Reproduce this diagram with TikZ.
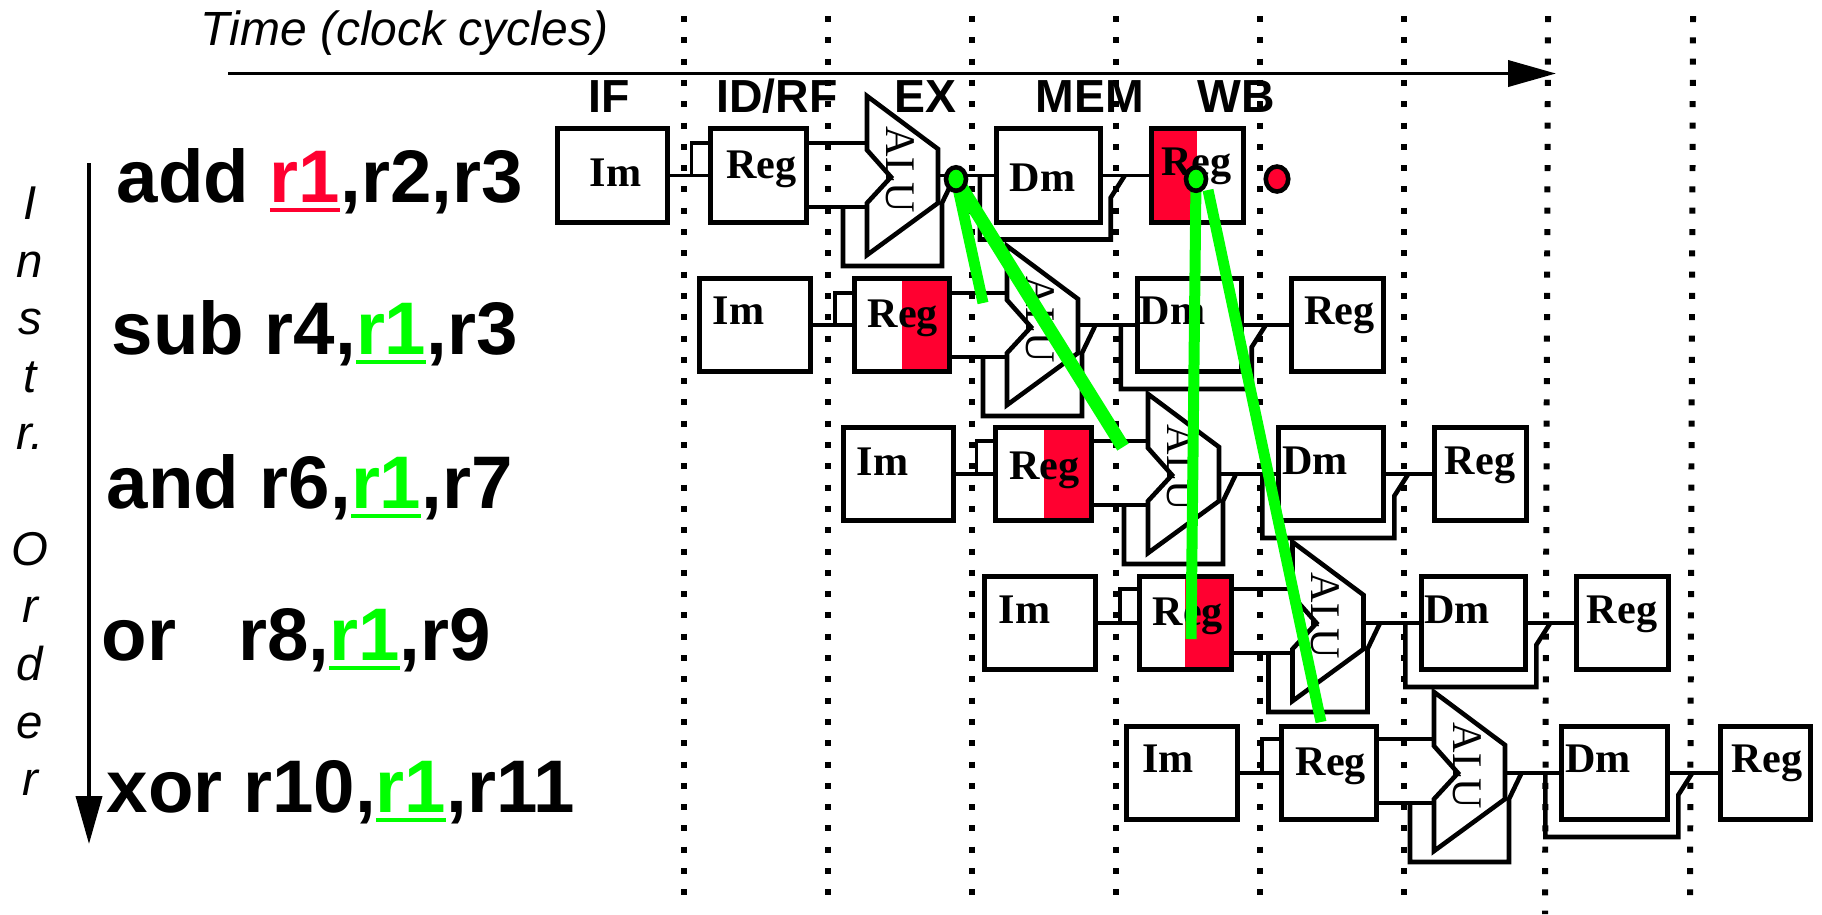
\documentclass[tikz,border=0pt]{standalone}
\usepackage{xcolor}
\usepackage{fontspec}
\setmainfont{Liberation Serif}
\setsansfont{Liberation Sans}
\usepackage{tikz}
\usetikzlibrary{shapes.geometric, arrows.meta, positioning, calc}
\definecolor{myred}{RGB}{255,0,48}
\definecolor{mygreen}{RGB}{0,255,0}
\tikzset{
  pipebox/.style={rectangle, draw=black, fill=white, line width=1.4pt,
    minimum height=0.935cm, inner sep=0pt},
  imbox/.style={pipebox, minimum width=1.11cm},
  regbox/.style={pipebox, minimum width=0.955cm},
  dmbox/.style={pipebox, minimum width=1.04cm},
  wbbox/.style={pipebox, minimum width=0.92cm},
  redleft/.style={path picture={\fill[myred] (path picture bounding box.south west)
    rectangle (path picture bounding box.north);}},
  redright/.style={path picture={\fill[myred] (path picture bounding box.south east)
    rectangle (path picture bounding box.north);}},
  boxtext/.style={anchor=base west, inner sep=0pt, font=\bfseries\fontsize{12}{14}\selectfont},
  alutext/.style={rotate=-90, inner sep=0pt, font=\fontsize{12}{14}\selectfont},
  alubody/.style={draw=black, fill=white, line width=1.3pt},
  bypass/.style={draw=black, line width=1.3pt},
  wire/.style={draw=black, line width=0.95pt},
  instr/.style={anchor=base west, inner sep=0pt, font=\sffamily\bfseries\fontsize{21.2}{24}\selectfont},
  stagelabel/.style={anchor=base, inner sep=0pt, font=\sffamily\bfseries\fontsize{13.2}{15}\selectfont},
  cycleline/.style={draw=black, line width=1.7pt, dash pattern=on 0.06cm off 0.153cm},
  bigarrow/.style={-{Triangle[length=0.48cm,width=0.26cm]}, line width=1.1pt},
  hazard/.style={draw=mygreen, line width=0.11cm},
  hazardwide/.style={draw=mygreen, line width=0.135cm},
  hazarddot/.style={ellipse, draw=black, line width=1.3pt, minimum width=0.20cm,
    minimum height=0.235cm, inner sep=0pt},
  alublock/.pic={
    \coordinate (-ina) at (0,0.34);
    \coordinate (-inb) at (0,-0.30);
    \coordinate (-right) at (0.71,0);
    \draw[bypass] (-0.24,-0.30) |- (0.75,-0.89) -- (0.75,-0.26) -- (0.88,0.01);
    \draw[alubody] (0,0.81) -- (0.71,0.28) -- (0.71,-0.26) -- (0,-0.78)
      -- (0,-0.26) -- (0.24,0) -- (0,0.27) -- cycle;
    \node[alutext] (-label) at (0.33,0.07) {ALU};
  }
}
\newcommand{\regmark}[1]{\textcolor{#1}{\rlap{\rule[-2.9pt]{0.945em}{1.3pt}}r1}}
\newcommand{\rowwires}[1]{%
  \coordinate (tap#1) at ($(reg#1.west)+(-0.17,0)$);
  \draw[wire] (im#1.east) -- (reg#1.west);
  \draw[wire] (tap#1) |- (reg#1.west |- alu#1-ina);
  \draw[wire] (reg#1.east |- alu#1-ina) -- (alu#1-ina);
  \draw[wire] (reg#1.east |- alu#1-inb) -- (alu#1-inb);
  \draw[wire] (alu#1-right |- dm#1.west) -- (dm#1.west);
  \draw[wire] (dm#1.east) -- (wb#1.west);
  \coordinate (dmtap#1) at ($(dm#1.east)+(0.22,0)$);
  \draw[bypass] ($(dm#1.west)+(-0.14,0)$) -- ++(0,-0.64)
    -| ($(dm#1.east)+(0.08,-0.22)$) -- (dmtap#1);
}

\begin{document}
\begin{tikzpicture}
  \useasboundingbox (0,0) rectangle (18.22,-9.14);
  % Cycle boundaries
  \draw[cycleline] (6.84,-0.16) -- (6.84,-8.95);
  \draw[cycleline] (8.28,-0.16) -- (8.28,-8.95);
  \draw[cycleline] (9.72,-0.16) -- (9.72,-8.95);
  \draw[cycleline] (11.155,-0.16) -- (11.155,-8.95);
  \draw[cycleline] (12.60,-0.16) -- (12.60,-8.95);
  \draw[cycleline] (14.04,-0.16) -- (14.04,-8.95);
  \draw[cycleline] (15.48,-0.16) -- (15.45,-9.14);
  \draw[cycleline] (16.93,-0.16) -- (16.90,-8.95);

  % Axes
  \node[anchor=base west, inner sep=0pt, font=\sffamily\itshape\fontsize{13.65}{16}\selectfont]
    (timelabel) at (2.00,-0.45) {Time (clock cycles)};
  \coordinate (timestart) at (2.28,-0.735);
  \coordinate (timeend) at (15.56,-0.735);
  \draw[bigarrow] (timestart) -- (timeend);
  \coordinate (orderstart) at (0.89,-1.63);
  \coordinate (orderend) at (0.89,-8.44);
  \draw[bigarrow] (orderstart) -- (orderend);
  \node[anchor=north, inner sep=0pt, align=center,
    font=\sffamily\itshape\fontsize{13.5}{16.4}\selectfont] (orderlabel) at (0.30,-1.86)
    {I\\n\\s\\t\\r.\\~\\O\\r\\d\\e\\r};

  % Stages
  \node[stagelabel] (stif) at (6.09,-1.12) {IF};
  \node[stagelabel] (stid) at (7.77,-1.12) {ID/RF};
  \node[stagelabel] (stex) at (9.25,-1.12) {EX};
  \node[stagelabel] (stmem) at (10.90,-1.12) {MEM};
  \node[stagelabel] (stwb) at (12.36,-1.12) {WB};

  % Instructions
  \node[instr] (instr1) at (1.16,-2.02) {add \regmark{myred},r2,r3};
  \node[instr] (instr2) at (1.11,-3.54) {sub r4,\regmark{mygreen},r3};
  \node[instr] (instr3) at (1.06,-5.08) {and r6,\regmark{mygreen},r7};
  \node[instr] (instr4) at (1.01,-6.60) {or\ \ \ r8,\regmark{mygreen},r9};
  \node[instr] (instr5) at (1.06,-8.12) {xor r10,\regmark{mygreen},r11};

  % Row 1
  \node[imbox, anchor=west, minimum width=1.10cm] (im1) at (5.55,-1.755) {};
  \node[regbox, right=0.385cm of im1] (reg1) {};
  \node[dmbox, right=1.85cm of reg1] (dm1) {};
  \node[wbbox, redleft, right=0.46cm of dm1] (wb1) {};
  \pic (alu1) at (8.67,-1.77) {alublock};
  \rowwires{1}
  \node[boxtext] (im1t) at ($(im1.west)+(0.34,-0.105)$) {Im};
  \node[boxtext] (reg1t) at ($(reg1.west)+(0.17,-0.025)$) {Reg};
  \node[boxtext] (dm1t) at ($(dm1.west)+(0.15,-0.155)$) {Dm};
  \node[boxtext] (wb1t) at ($(wb1.west)+(0.12,0.005)$) {Reg};

  % Row 2
  \node[imbox, anchor=west] (im2) at (6.97,-3.25) {};
  \node[regbox, redright, right=0.39cm of im2] (reg2) {};
  \node[dmbox, right=1.825cm of reg2] (dm2) {};
  \node[wbbox, right=0.45cm of dm2] (wb2) {};
  \pic (alu2) at (10.07,-3.27) {alublock};
  \rowwires{2}
  \node[boxtext] (im2t) at ($(im2.west)+(0.15,0.01)$) {Im};
  \node[boxtext] (reg2t) at ($(reg2.west)+(0.15,-0.02)$) {Reg};
  \node[boxtext] (dm2t) at ($(dm2.west)+(0.04,0.01)$) {Dm};
  \node[boxtext] (wb2t) at ($(wb2.west)+(0.15,0.01)$) {Reg};

  % Row 3
  \node[imbox, anchor=west, minimum width=1.10cm] (im3) at (8.41,-4.74) {};
  \node[regbox, redright, right=0.375cm of im3] (reg3) {};
  \node[dmbox, right=1.825cm of reg3, minimum width=1.05cm] (dm3) {};
  \node[wbbox, right=0.46cm of dm3] (wb3) {};
  \pic (alu3) at (11.48,-4.75) {alublock};
  \rowwires{3}
  \node[boxtext] (im3t) at ($(im3.west)+(0.15,-0.01)$) {Im};
  \node[boxtext] (reg3t) at ($(reg3.west)+(0.15,-0.05)$) {Reg};
  \node[boxtext] (dm3t) at ($(dm3.west)+(0.05,0)$) {Dm};
  \node[boxtext] (wb3t) at ($(wb3.west)+(0.12,0)$) {Reg};

  % Row 4
  \node[imbox, anchor=west] (im4) at (9.82,-6.23) {};
  \node[regbox, redright, right=0.39cm of im4, minimum width=0.92cm] (reg4) {};
  \node[dmbox, right=1.855cm of reg4, minimum width=1.04cm] (dm4) {};
  \node[wbbox, right=0.46cm of dm4] (wb4) {};
  \pic (alu4) at (12.925,-6.23) {alublock};
  \rowwires{4}
  \node[boxtext] (im4t) at ($(im4.west)+(0.16,0)$) {Im};
  \node[boxtext] (reg4t) at ($(reg4.west)+(0.15,-0.02)$) {Reg};
  \node[boxtext] (dm4t) at ($(dm4.west)+(0.04,0)$) {Dm};
  \node[boxtext] (wb4t) at ($(wb4.west)+(0.12,0)$) {Reg};

  % Row 5
  \node[imbox, anchor=west] (im5) at (11.24,-7.73) {};
  \node[regbox, right=0.39cm of im5] (reg5) {};
  \node[dmbox, right=1.80cm of reg5, minimum width=1.06cm] (dm5) {};
  \node[wbbox, right=0.48cm of dm5, minimum width=0.90cm] (wb5) {};
  \pic (alu5) at (14.34,-7.73) {alublock};
  \rowwires{5}
  \node[boxtext] (im5t) at ($(im5.west)+(0.175,0.01)$) {Im};
  \node[boxtext] (reg5t) at ($(reg5.west)+(0.16,-0.02)$) {Reg};
  \node[boxtext] (dm5t) at ($(dm5.west)+(0.05,0.01)$) {Dm};
  \node[boxtext] (wb5t) at ($(wb5.west)+(0.13,0.01)$) {Reg};

  % Forwarding
  \coordinate (exsrc) at (9.56,-1.79);
  \coordinate (wbsrc) at (11.96,-1.79);
  \coordinate (wbtap) at (12.08,-1.90);
  \coordinate (subend) at (9.83,-3.03);
  \coordinate (andend) at (11.23,-4.47);
  \coordinate (orend) at (11.91,-6.39);
  \coordinate (xorend) at (13.21,-7.22);
  \draw[hazard] (exsrc) -- (subend);
  \draw[hazardwide] (exsrc) -- (andend);
  \draw[hazard] (wbsrc) -- (orend);
  \draw[hazard] (wbtap) -- (xorend);
  \node[hazarddot, fill=mygreen] (exdot) at (exsrc) {};
  \node[hazarddot, fill=mygreen] (wbdot) at (wbsrc) {};
  \node[hazarddot, fill=myred, minimum width=0.225cm, minimum height=0.25cm] (enddot) at (12.77,-1.79) {};
\end{tikzpicture}
\end{document}
